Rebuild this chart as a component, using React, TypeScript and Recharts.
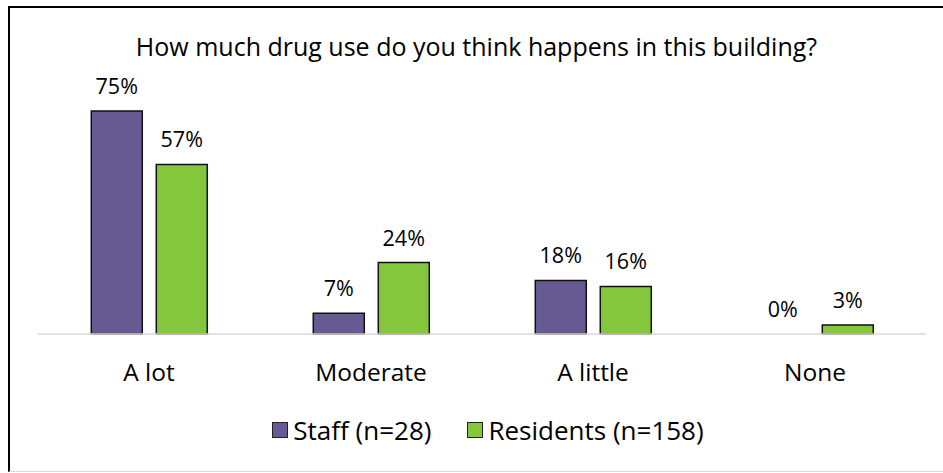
import { BarChart, Bar, XAxis, YAxis, LabelList, Legend, Cell } from "recharts";

const categories = ["A lot", "Moderate", "A little", "None"];
const staff = [0.75, 0.07, 0.18, 0.0];
const residents = [0.57, 0.24, 0.16, 0.03];
const seriesNames = ["Staff (n=28)", "Residents (n=158)"];
const title = "How much drug use do you think happens in this building?";

const PURPLE = "#675a92";
const GREEN = "#84c63c";
const FONT = "'Open Sans', 'Noto Sans', sans-serif";

const data = categories.map((name, i) => ({ name, staff: staff[i], residents: residents[i] }));

const pct = (v: number) => `${Math.round(v * 100)}%`;

// value label drawn above each bar (also for zero-height bars)
const ValueLabel = (props: any) => {
  const { x, y, width, height, value } = props;
  if (value == null) return null;
  const top = Number(value) === 0 ? Number(y) + Number(height) : Number(y);
  return (
    <text
      x={Number(x) + Number(width) / 2}
      y={top - 17}
      textAnchor="middle"
      fontSize={21.5}
      fontFamily={FONT}
      fill="#000"
    >
      {pct(Number(value))}
    </text>
  );
};

function LegendBox() {
  const items = [
    { label: seriesNames[0], color: PURPLE },
    { label: seriesNames[1], color: GREEN },
  ];
  return (
    <div style={{ height: 40, paddingLeft: 12, display: "flex", justifyContent: "center", alignItems: "center", gap: 36, fontFamily: FONT, fontSize: 26, color: "#000" }}>
      {items.map((it) => (
        <div key={it.label} style={{ display: "flex", alignItems: "center", gap: 5 }}>
          <span style={{ width: 14, height: 14, background: it.color, border: "1.5px solid #222", display: "inline-block" }} />
          <span>{it.label}</span>
        </div>
      ))}
    </div>
  );
}

// zero values keep a hairline rect so the label still gets placed, but it stays invisible
const zeroCell = (v: number, color: string, i: number) =>
  v === 0 ? <Cell key={i} fill="transparent" stroke="none" /> : <Cell key={i} fill={color} />;

export default function App() {
  return (
    <div
      style={{
        position: "absolute",
        top: 6,
        left: 8,
        width: 935,
        height: 466,
        boxSizing: "border-box",
        borderTop: "2px solid #000",
        borderLeft: "2px solid #000",
        borderBottom: "1px solid #d9d9d9",
        background: "#fff",
      }}
    >
      <div style={{ position: "absolute", top: 21, left: 0, width: 933, textAlign: "center", fontFamily: FONT, fontSize: 25, color: "#000" }}>
        {title}
      </div>
      <BarChart
        width={925}
        height={462}
        data={data}
        margin={{ top: 88, right: 9, left: 28, bottom: 20 }}
        barCategoryGap="24%"
        barGap={14}
      >
        <XAxis
          dataKey="name"
          height={76}
          tickLine={false}
          tickSize={0}
          tickMargin={30}
          axisLine={{ stroke: "#d9d9d9", strokeWidth: 1.5 }}
          tick={{ fontSize: 24.5, fill: "#000", fontFamily: FONT }}
        />
        <YAxis hide domain={[0, 0.8]} />
        <Legend verticalAlign="bottom" content={() => <LegendBox />} />
        <Bar
          dataKey="staff"
          name={seriesNames[0]}
          fill={PURPLE}
          stroke="#111"
          strokeWidth={1.5}
          minPointSize={(v: number) => (v === 0 ? 0.01 : 0)}
          isAnimationActive={false}
        >
          {staff.map((v, i) => zeroCell(v, PURPLE, i))}
          <LabelList dataKey="staff" content={ValueLabel} />
        </Bar>
        <Bar dataKey="residents" name={seriesNames[1]} fill={GREEN} stroke="#111" strokeWidth={1.5} isAnimationActive={false}>
          <LabelList dataKey="residents" content={ValueLabel} />
        </Bar>
      </BarChart>
    </div>
  );
}
